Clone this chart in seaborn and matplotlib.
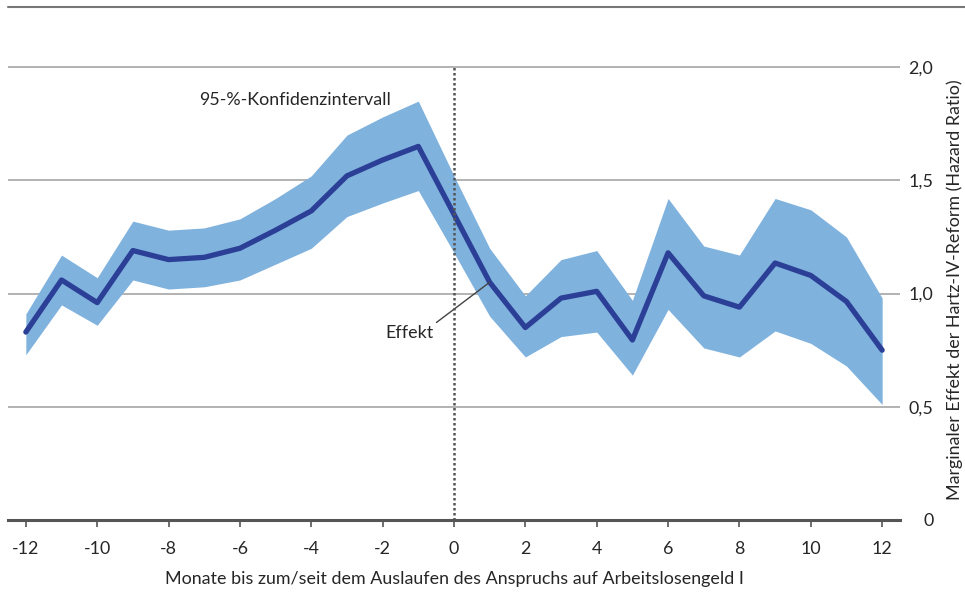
import numpy as np
import pandas as pd
import matplotlib
matplotlib.use('Agg')
import matplotlib.pyplot as plt
from matplotlib.lines import Line2D
import seaborn as sns

# Daten
monate = list(range(-12, 13))
effekt = [0.83, 1.06, 0.96, 1.19, 1.15, 1.16, 1.20, 1.28, 1.365, 1.52, 1.59, 1.65,
          1.35, 1.05, 0.85, 0.98, 1.01, 0.795, 1.18, 0.99, 0.94, 1.135, 1.08, 0.965, 0.75]
ki_oben = [0.91, 1.17, 1.07, 1.32, 1.28, 1.29, 1.33, 1.42, 1.52, 1.70, 1.78, 1.85,
           1.52, 1.20, 0.99, 1.15, 1.19, 0.97, 1.42, 1.21, 1.17, 1.42, 1.37, 1.25, 0.98]
ki_unten = [0.73, 0.95, 0.86, 1.06, 1.02, 1.03, 1.06, 1.13, 1.20, 1.34, 1.40, 1.455,
            1.18, 0.90, 0.72, 0.81, 0.83, 0.64, 0.93, 0.76, 0.72, 0.835, 0.78, 0.68, 0.51]
x_ticks = list(range(-12, 13, 2))
y_ticks = [0, 0.5, 1.0, 1.5, 2.0]
y_ticklabels = ['0', '0,5', '1,0', '1,5', '2,0']

df = pd.DataFrame({'monat': monate, 'effekt': effekt, 'oben': ki_oben, 'unten': ki_unten})

sns.set_theme(style='white')
plt.rcParams['font.family'] = ['Lato', 'DejaVu Sans']

band_farbe = '#80b2de'
linien_farbe = '#2b3f97'
grau = '#555555'
fs = 12.9

fig = plt.figure(figsize=(9.65, 6.06), dpi=100)
ax = fig.add_axes([8 / 965, 1 - 520 / 606, 892 / 965, 0.822])

for y in y_ticks[1:]:
    ax.axhline(y, color='#a6a6a6', lw=1.2, zorder=1)

ax.fill_between(df['monat'], df['unten'], df['oben'], color=band_farbe, lw=0, zorder=2)
sns.lineplot(data=df, x='monat', y='effekt', ax=ax, color=linien_farbe, lw=3.8, zorder=3)

ax.plot([0, 0], [0, 2.0], color=grau, lw=1.8, ls=(0, (1, 1)), zorder=4)

ax.set_xlim(-12.5, 12.5)
ax.set_ylim(0, 2.2)
ax.set_xticks(x_ticks)
ax.set_xticklabels([str(v) for v in x_ticks], fontsize=fs)
ax.yaxis.tick_right()
ax.set_yticks(y_ticks)
ax.set_yticklabels(y_ticklabels, fontsize=fs, ha='right')
ax.tick_params(axis='y', length=0, pad=24)
ax.tick_params(axis='x', direction='out', length=5, width=1.2, color=grau, bottom=True, pad=10)
ax.set_xlabel('Monate bis zum/seit dem Auslaufen des Anspruchs auf Arbeitslosengeld I',
              fontsize=fs, labelpad=10)
ax.set_ylabel('')

for s in ['top', 'left', 'right']:
    ax.spines[s].set_visible(False)
ax.spines['bottom'].set_color(grau)
ax.spines['bottom'].set_linewidth(2.2)
ax.spines['bottom'].set_zorder(5)

ax.text(-4.46, 1.854, '95-%-Konfidenzintervall', fontsize=fs, ha='center', va='center')
ax.annotate('Effekt', xy=(1.0, 1.05), xytext=(-1.26, 0.826), fontsize=fs,
            ha='center', va='center',
            arrowprops=dict(arrowstyle='-', color='#444444', lw=1.0,
                            shrinkA=0, shrinkB=0, relpos=(1.0, 1.0)))

fig.text(955 / 965, 1 - 290 / 606, 'Marginaler Effekt der Hartz-IV-Reform (Hazard Ratio)',
         rotation=90, fontsize=fs, ha='center', va='center')
fig.add_artist(Line2D([8 / 965, 1.0], [1 - 7 / 606, 1 - 7 / 606],
                      transform=fig.transFigure, color='#777777', lw=1.5))

fig.savefig('out.png', dpi=100)
